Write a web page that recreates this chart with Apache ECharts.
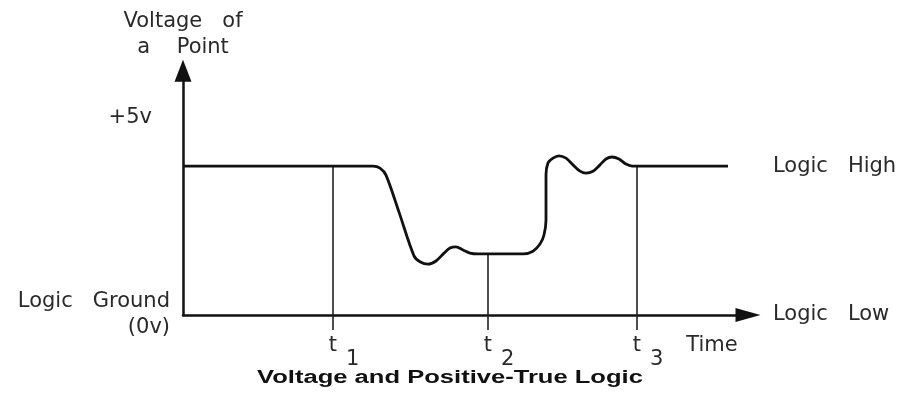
<!DOCTYPE html>
<html>
<head>
<meta charset="utf-8">
<script src="https://cdn.jsdelivr.net/npm/echarts@6/dist/echarts.min.js"></script>
<style>
  html, body { margin: 0; padding: 0; background: #ffffff; }
  #chart { width: 901px; height: 415px; }
</style>
</head>
<body>
<div id="chart"></div>
<script>
// Voltage of a point over time (time in arbitrary units, level in volts)
const waveTime = [
  0, 38, 39.4, 40.6, 43.2, 46.2, 47.4, 49, 50.6,
  52.2, 53.4, 54.6, 56, 57.4, 59, 68,
  70, 71.4, 72.2, 72.6, 72.6, 73,
  74, 75.2, 76.6, 78, 79.4, 80.6, 82,
  83.4, 84.6, 85.8, 87.2, 88.6, 89.8, 109
];
const waveVolts = [
  3.78, 3.78, 3.73, 3.55, 2.61, 1.50, 1.35, 1.29, 1.37,
  1.57, 1.70, 1.73, 1.65, 1.57, 1.55, 1.55,
  1.62, 1.80, 2.03, 2.41, 3.55, 3.86,
  3.98, 4.04, 3.98, 3.81, 3.65, 3.60, 3.65,
  3.81, 3.96, 4.01, 3.96, 3.83, 3.78, 3.78
];

// Sampling instants t1, t2, t3 and the level the waveform holds there
const sampleTimes = [30, 61, 90.8];
const sampleNames = ['1', '2', '3'];
const sampleLevels = [3.78, 1.55, 3.78];
const sampleFoot = -0.38;   // drop lines run a little below the time axis

// Time axis caption sits past the last sample
const timeCaptionAt = 105.8;

// Level ticks on the voltage axis
const levelTicks = [0, 5];
const levelLabels = ['Logic   Ground\n(0v)', '+5v'];

const ink = '#111111';
const textInk = '#2a2a2a';
const thinFont = '"DejaVu Sans", sans-serif';
const textSize = 21;

const chart = echarts.init(document.getElementById('chart'), null, { renderer: 'canvas' });

const dropSeries = sampleTimes.map(function (t, i) {
  return {
    type: 'line',
    data: [[t, sampleLevels[i]], [t, sampleFoot]],
    symbol: 'none',
    clip: false,
    silent: true,
    z: 1,
    lineStyle: { color: '#222222', width: 1.6 }
  };
});

const option = {
  animation: false,
  backgroundColor: '#ffffff',
  grid: {
    left: 183, right: 153, top: 70.7, bottom: 100,
    containLabel: false,
    outerBoundsMode: 'none'
  },
  graphic: [{
    type: 'text',
    x: 450,
    y: 378,
    scaleX: 1.42,
    style: {
      text: 'Voltage and Positive-True Logic',
      font: 'bold 18px "Liberation Sans", Arial, sans-serif',
      fill: '#111111',
      textAlign: 'center',
      textVerticalAlign: 'middle'
    }
  }],
  xAxis: {
    type: 'value',
    min: 0,
    max: 113,
    name: 'Logic   Low',
    nameLocation: 'end',
    nameGap: 25,
    nameTextStyle: { color: textInk, fontFamily: thinFont, fontSize: textSize, align: 'left', verticalAlign: 'middle' },
    axisLine: {
      show: true,
      symbol: ['none', 'triangle'],
      symbolSize: [14, 25],
      lineStyle: { color: ink, width: 2.5 }
    },
    axisTick: { show: false },
    splitLine: { show: false },
    axisLabel: {
      show: true,
      customValues: sampleTimes.concat([timeCaptionAt]),
      margin: 28,
      verticalAlign: 'top',
      formatter: function (v) {
        const i = sampleTimes.indexOf(v);
        if (i >= 0) return '{t|t}{s|' + sampleNames[i] + '}';
        if (v === timeCaptionAt) return '{n|Time}';
        return '';
      },
      rich: {
        // "t" sits high, its index drops below it
        t: { fontFamily: thinFont, fontSize: textSize, lineHeight: 19, color: textInk, padding: [0, 0, 14, 22] },
        s: { fontFamily: thinFont, fontSize: textSize, lineHeight: 19, color: textInk, padding: [14, 0, 0, 9] },
        n: { fontFamily: thinFont, fontSize: textSize, lineHeight: 19, color: textInk, padding: [0, 0, 14, 0] }
      }
    }
  },
  yAxis: {
    type: 'value',
    min: 0,
    max: 6.2,
    name: 'Voltage   of\na    Point',
    nameLocation: 'end',
    nameGap: 10,
    nameTextStyle: { color: textInk, fontFamily: thinFont, fontSize: textSize, lineHeight: 26, align: 'center' },
    axisLine: {
      show: true,
      symbol: ['none', 'triangle'],
      symbolSize: [17, 22],
      lineStyle: { color: ink, width: 2.5 }
    },
    axisTick: { show: false },
    splitLine: { show: false },
    axisLabel: {
      show: true,
      customValues: levelTicks,
      margin: 13,
      color: textInk,
      fontFamily: thinFont,
      fontSize: textSize,
      lineHeight: 26,
      formatter: function (v) {
        const i = levelTicks.indexOf(v);
        if (i < 0) return '';
        return v === 5 ? '{p|' + levelLabels[i] + '}' : levelLabels[i];
      },
      rich: {
        p: { fontFamily: thinFont, fontSize: textSize, color: textInk, padding: [0, 18, 0, 0] }
      }
    }
  },
  series: [{
    type: 'line',
    data: waveTime.map(function (t, i) { return [t, waveVolts[i]]; }),
    smooth: 0.3,
    symbol: 'none',
    clip: false,
    z: 3,
    lineStyle: { color: ink, width: 2.8 },
    endLabel: {
      show: true,
      formatter: 'Logic   High',
      distance: 45,
      color: textInk,
      fontFamily: thinFont,
      fontSize: textSize
    }
  }].concat(dropSeries)
};

chart.setOption(option);
</script>
</body>
</html>
